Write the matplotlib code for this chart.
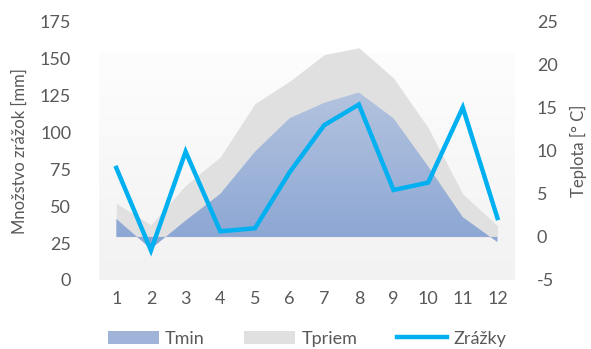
import numpy as np
import matplotlib
matplotlib.use('Agg')
import matplotlib.pyplot as plt
from matplotlib.colors import LinearSegmentedColormap
from matplotlib.lines import Line2D
from matplotlib.patches import Patch

plt.rcParams['font.family'] = ['Lato', 'DejaVu Sans']
plt.rcParams['axes.unicode_minus'] = False

mesiace = list(range(1, 13))
tmin = [2.1, -1.4, 1.9, 5.0, 9.9, 13.8, 15.6, 16.8, 13.8, 8.2, 2.3, -0.6]
tpriem = [3.9, 1.4, 6.0, 9.3, 15.5, 18.1, 21.2, 22.0, 18.5, 12.7, 5.0, 1.3]
zrazky = [76, 20, 87, 33, 35, 73, 105, 119, 61, 66, 117, 42]

text_color = '#595959'
fs = 13

fig = plt.figure(figsize=(5.91, 3.49), dpi=100)
ax = fig.add_axes([0.1675, 0.198, 0.7035, 0.739])
ax2 = ax.twinx()
# line (left axis) on top of the areas (right axis)
ax.set_zorder(ax2.get_zorder() + 1)
ax.patch.set_visible(False)

# plot area background
bg = LinearSegmentedColormap.from_list('bg', ['#f2f2f2', '#fdfdfd'])
ax2.imshow(np.linspace(0, 1, 256).reshape(-1, 1), cmap=bg, aspect='auto',
           origin='lower', extent=(0, 1, 0, 0.88), transform=ax2.transAxes,
           zorder=0)

# Tpriem - flat gray area
ax2.fill_between(mesiace, 0, tpriem, color='#e0e0e0', linewidth=0, zorder=1)

# Tmin - blue gradient area
poly = ax2.fill_between(mesiace, 0, tmin, color='none', linewidth=0, zorder=2)
blue = LinearSegmentedColormap.from_list('blue', ['#8aa5d3', '#b3c3df'])
img = ax2.imshow(np.linspace(0, 1, 256).reshape(-1, 1), cmap=blue, aspect='auto',
                 origin='lower', extent=(0.5, 12.5, min(tmin), max(tmin)),
                 zorder=2)
img.set_clip_path(poly.get_paths()[0], transform=ax2.transData)
ax2.set_xlim(0.5, 12.5)
ax2.set_ylim(-5, 25)

# Zrážky line
ax.plot(mesiace, zrazky, color='#00b0f0', linewidth=3.2,
        solid_joinstyle='miter', zorder=3)
ax.set_xlim(0.5, 12.5)
ax.set_ylim(0, 175)
ax.set_yticks(range(0, 176, 25))
ax2.set_yticks(range(-5, 26, 5))
ax.set_xticks(mesiace)

for a in (ax, ax2):
    for s in a.spines.values():
        s.set_visible(False)
    a.tick_params(length=0, colors=text_color, labelsize=fs)
ax.tick_params(axis='y', pad=20)
ax.tick_params(axis='x', pad=8)
ax2.tick_params(axis='y', pad=16)

ax.set_ylabel('Množstvo zrážok [mm]', color=text_color, fontsize=12, labelpad=9)
ax2.set_ylabel('Teplota [° C]', color=text_color, fontsize=12, labelpad=9)

handles = [
    Patch(facecolor='#a0b4da', edgecolor='none', label='Tmin'),
    Patch(facecolor='#e0e0e0', edgecolor='none', label='Tpriem'),
    Line2D([0], [0], color='#00b0f0', linewidth=3.2, label='Zrážky'),
]
leg = fig.legend(handles=handles, loc='center', bbox_to_anchor=(0.52, 0.03),
                 ncol=3, frameon=False, fontsize=fs, handlelength=2.8,
                 handleheight=0.7, handletextpad=0.35, columnspacing=2.2)
for t in leg.get_texts():
    t.set_color(text_color)

fig.savefig('out.png', dpi=100)
